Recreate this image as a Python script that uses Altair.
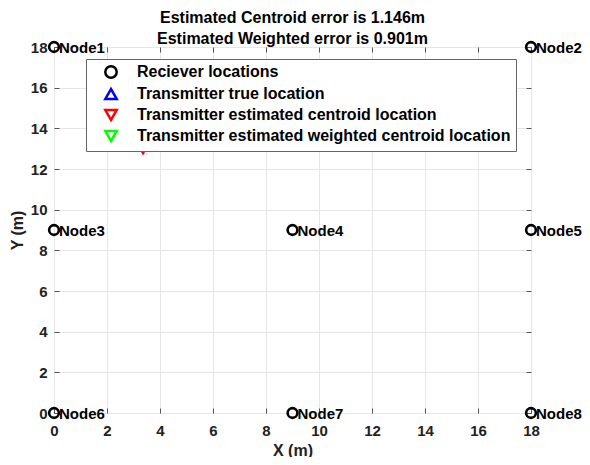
import altair as alt
import pandas as pd

FONT = "Liberation Sans"

# Receiver nodes
node_names = ["Node1", "Node2", "Node3", "Node4", "Node5", "Node6", "Node7", "Node8"]
node_x = [0, 18, 0, 9, 18, 0, 9, 18]
node_y = [18, 18, 9, 9, 9, 0, 0, 0]

# Transmitter locations (true one and estimates sit mostly under the legend)
tx_series = [
    "Transmitter true location",
    "Transmitter estimated centroid location",
    "Transmitter estimated weighted centroid location",
]
tx_x = [2.6, 3.36, 3.15]
tx_y = [13.85, 13.0, 14.55]

series_order = ["Reciever locations"] + tx_series
series_colors = ["#000000", "#0000ff", "#ff0000", "#00ff00"]
series_shapes = ["circle", "triangle-up", "triangle-down", "triangle-down"]

tick_vals = [0, 2, 4, 6, 8, 10, 12, 14, 16, 18]

title_lines = ["Estimated Centroid error is 1.146m", "Estimated Weighted error is 0.901m"]

nodes = pd.DataFrame({"x": node_x, "y": node_y, "name": node_names,
                      "series": ["Reciever locations"] * len(node_x)})
tx = pd.DataFrame({"x": tx_x, "y": tx_y, "name": [""] * 3, "series": tx_series})
pts = pd.concat([nodes, tx], ignore_index=True)

xscale = alt.Scale(domain=[0, 18], nice=False, zero=False)
yscale = alt.Scale(domain=[0, 18], nice=False, zero=False)

# bottom / left axes: ticks drawn inward (axis shifted inside by the tick length)
xaxis = alt.Axis(values=tick_vals, title="X (m)", grid=True, domain=False,
                 ticks=True, tickSize=5, offset=-5,
                 labelPadding=10, titlePadding=4)
yaxis = alt.Axis(values=tick_vals, title="Y (m)", grid=True, domain=False,
                 ticks=True, tickSize=5, offset=-5,
                 labelPadding=7, titlePadding=5)
# top / right axes: inward ticks only
xaxis_top = alt.Axis(values=tick_vals, orient="top", title=None, labels=False, grid=False,
                     domain=False, ticks=True, tickSize=5, offset=-5)
yaxis_right = alt.Axis(values=tick_vals, orient="right", title=None, labels=False, grid=False,
                       domain=False, ticks=True, tickSize=5, offset=-5)

points = alt.Chart(pts).mark_point(filled=False, strokeWidth=2.6, size=95, clip=False, opacity=1).encode(
    x=alt.X("x:Q", scale=xscale, axis=xaxis),
    y=alt.Y("y:Q", scale=yscale, axis=yaxis),
    color=alt.Color("series:N", scale=alt.Scale(domain=series_order, range=series_colors),
                    legend=alt.Legend(title=None)),
    shape=alt.Shape("series:N", scale=alt.Scale(domain=series_order, range=series_shapes),
                    legend=alt.Legend(title=None)),
)

labels = alt.Chart(nodes).mark_text(align="left", baseline="middle", dx=5, dy=1,
                                    font=FONT, fontWeight="bold", fontSize=15,
                                    color="black", clip=False).encode(
    x=alt.X("x:Q", scale=xscale, axis=xaxis_top),
    y=alt.Y("y:Q", scale=yscale, axis=yaxis_right),
    text="name:N",
)

chart = alt.layer(labels, points).resolve_axis(x="independent", y="independent").properties(
    width=477, height=366,
    autosize="none",
    padding={"left": 46, "top": 39, "right": 51, "bottom": 44},
    title=alt.TitleParams(title_lines, font=FONT, fontSize=16, fontWeight="bold",
                          color="black", lineHeight=21, offset=-10, anchor="middle"),
).configure_view(stroke="#555555", strokeWidth=1).configure_axis(
    labelFont=FONT, labelFontSize=15, labelFontWeight="bold", labelColor="#222222",
    titleFont=FONT, titleFontSize=16, titleFontWeight="bold", titleColor="#222222",
    gridColor="#e6e6e6", tickColor="#555555", labelFlush=False,
).configure_legend(
    orient="none", legendX=32, legendY=12,
    fillColor="white", strokeColor="#666666", strokeWidth=1,
    padding=5, rowPadding=1, symbolOffset=12, labelOffset=18,
    labelFont=FONT, labelFontSize=16, labelFontWeight="bold", labelColor="black",
    symbolSize=130, symbolStrokeWidth=2.5, labelLimit=500,
)

chart.save("out.html", embed_options={"renderer": "svg", "actions": False})
